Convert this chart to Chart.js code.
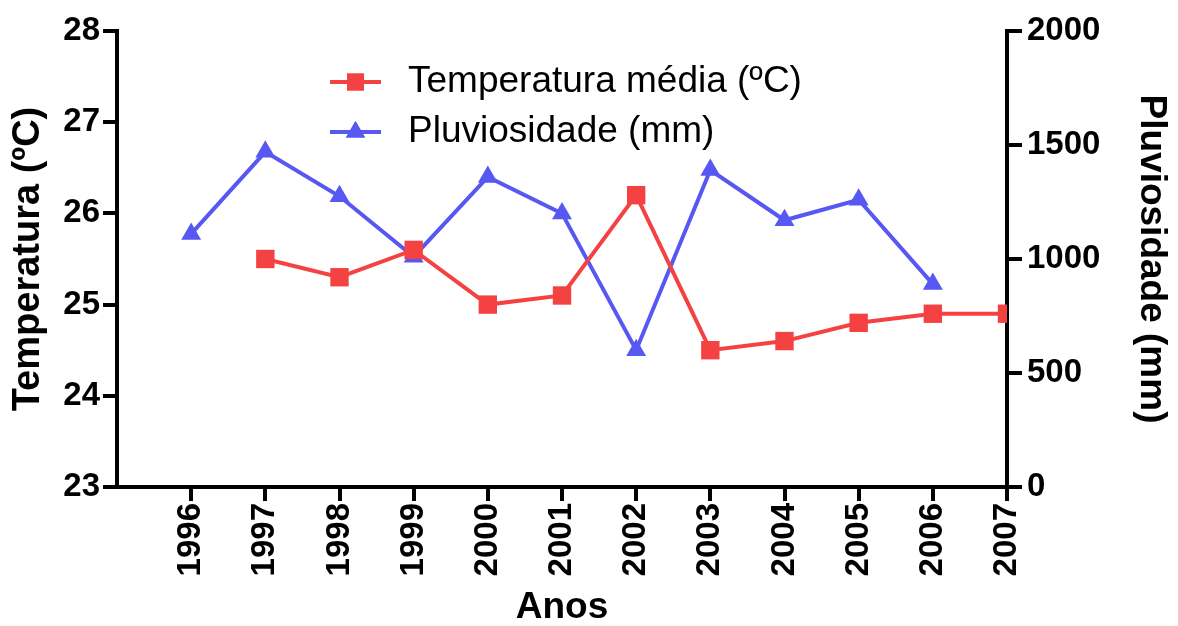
<!DOCTYPE html>
<html>
<head>
<meta charset="utf-8">
<script src="https://cdn.jsdelivr.net/npm/chart.js@4.4.0/dist/chart.umd.min.js"></script>
<style>
  html, body { margin: 0; padding: 0; background: #fff; }
  #wrap { width: 1178px; height: 626px; }
</style>
</head>
<body>
<div id="wrap"><canvas id="chart"></canvas></div>
<script>
const anos = ['1996', '1997', '1998', '1999', '2000', '2001', '2002', '2003', '2004', '2005', '2006', '2007'];
const temperatura = [null, 25.5, 25.3, 25.6, 25.0, 25.1, 26.2, 24.5, 24.6, 24.8, 24.9, 24.9];
const pluviosidade = [1110, 1470, 1275, 1010, 1360, 1200, 600, 1390, 1170, 1260, 890, null];
const tempTicks = [23, 24, 25, 26, 27, 28];
const pluvTicks = [0, 500, 1000, 1500, 2000];

const RED = '#F44242';
const BLUE = '#5757F2';
const FONT = "'Liberation Sans', Arial, sans-serif";

function points(values) {
  return anos.map((a, i) => ({ x: Number(a), y: values[i] }));
}

// legend drawn inside the plot, like the original
const insideLegend = {
  id: 'insideLegend',
  afterDatasetsDraw(chart) {
    const ctx = chart.ctx;
    const rows = [
      { label: chart.data.datasets[0].label, color: RED, style: 'rect', radius: 12, y: 82 },
      { label: chart.data.datasets[1].label, color: BLUE, style: 'triangle', radius: 11, y: 132 }
    ];
    ctx.save();
    rows.forEach(r => {
      ctx.strokeStyle = r.color;
      ctx.lineWidth = 4;
      ctx.beginPath();
      ctx.moveTo(330, r.y);
      ctx.lineTo(381, r.y);
      ctx.stroke();
      ctx.fillStyle = r.color;
      Chart.helpers.drawPoint(ctx, { pointStyle: r.style, radius: r.radius, borderWidth: 0 }, 355.5, r.y);
      ctx.fill();
      ctx.fillStyle = '#000';
      ctx.font = '37px ' + FONT;
      ctx.textBaseline = 'middle';
      ctx.fillText(r.label, 408, r.y);
    });
    ctx.restore();
  }
};

new Chart(document.getElementById('chart'), {
  type: 'line',
  data: {
    datasets: [
      {
        label: 'Temperatura média (ºC)',
        data: points(temperatura),
        yAxisID: 'yTemp',
        borderColor: RED,
        backgroundColor: RED,
        borderWidth: 4,
        pointStyle: 'rect',
        pointRadius: 13,
        pointHoverRadius: 13,
        pointBorderWidth: 0
      },
      {
        label: 'Pluviosidade (mm)',
        data: points(pluviosidade),
        yAxisID: 'yPluv',
        borderColor: BLUE,
        backgroundColor: BLUE,
        borderWidth: 4,
        pointStyle: 'triangle',
        pointRadius: 11.5,
        pointHoverRadius: 11.5,
        pointBorderWidth: 0
      }
    ]
  },
  options: {
    responsive: true,
    maintainAspectRatio: false,
    animation: false,
    layout: { padding: { top: 31, left: 0, right: 0, bottom: 0 } },
    plugins: {
      legend: { display: false },
      tooltip: { enabled: false }
    },
    scales: {
      x: {
        type: 'linear',
        min: 1995,
        max: 2007,
        afterBuildTicks: s => { s.ticks = anos.map(a => ({ value: Number(a) })); },
        afterFit: s => { s.height = 139; },
        border: { color: '#000', width: 4 },
        grid: { drawOnChartArea: false, color: '#000', lineWidth: 4, tickLength: 14 },
        ticks: {
          color: '#000',
          font: { family: FONT, size: 33, weight: 'bold' },
          minRotation: 90,
          maxRotation: 90,
          padding: 2,
          callback: v => String(v)
        },
        title: {
          display: true,
          text: 'Anos',
          color: '#000',
          font: { family: FONT, size: 37, weight: 'bold', lineHeight: 1 },
          padding: 0
        }
      },
      yTemp: {
        position: 'left',
        min: 23,
        max: 28,
        afterBuildTicks: s => { s.ticks = tempTicks.map(v => ({ value: v })); },
        afterFit: s => { s.width = 117; },
        border: { color: '#000', width: 4 },
        grid: { drawOnChartArea: false, color: '#000', lineWidth: 4, tickLength: 14 },
        ticks: {
          color: '#000',
          font: { family: FONT, size: 33, weight: 'bold' },
          padding: 3,
          callback: v => String(v)
        },
        title: {
          display: true,
          text: 'Temperatura (ºC)',
          color: '#000',
          font: { family: FONT, size: 38, weight: 'bold', lineHeight: 1 },
          padding: 10
        }
      },
      yPluv: {
        position: 'right',
        min: 0,
        max: 2000,
        afterBuildTicks: s => { s.ticks = pluvTicks.map(v => ({ value: v })); },
        afterFit: s => { s.width = 171; },
        border: { color: '#000', width: 4 },
        grid: { drawOnChartArea: false, color: '#000', lineWidth: 4, tickLength: 15 },
        ticks: {
          color: '#000',
          font: { family: FONT, size: 33, weight: 'bold' },
          padding: 5,
          callback: v => String(v)
        },
        title: {
          display: true,
          text: 'Pluviosidade (mm)',
          color: '#000',
          font: { family: FONT, size: 37, weight: 'bold', lineHeight: 1 },
          padding: 8
        }
      }
    }
  },
  plugins: [insideLegend]
});
</script>
</body>
</html>
